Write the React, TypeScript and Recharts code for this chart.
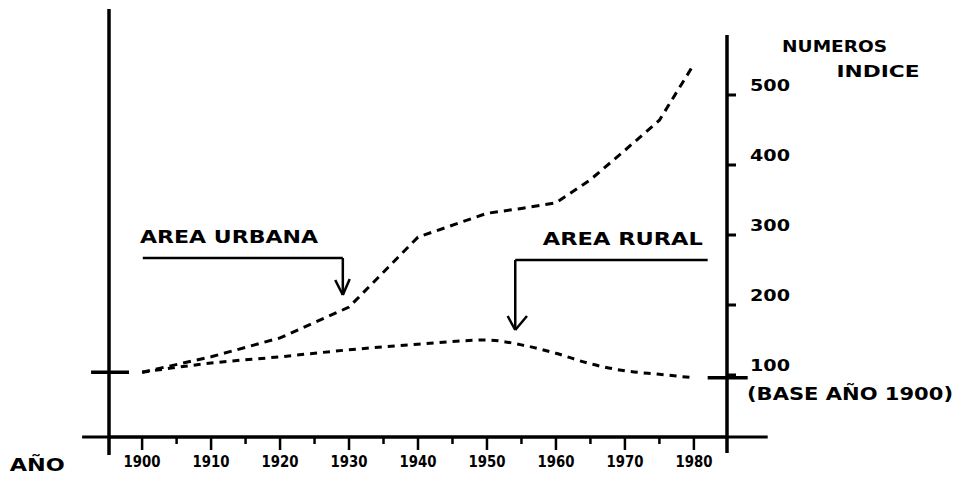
import { LineChart, Line, XAxis, YAxis, ReferenceLine, ReferenceDot } from "recharts";

// índices (base año 1900 = 100)
const years = [1900, 1910, 1920, 1930, 1940, 1950, 1955, 1960, 1965, 1970, 1975, 1980];
const urbana = [104, 126, 153, 197, 297, 331, 338, 346, 379, 421, 464, 544];
const rural = [104, 117, 126, 136, 144, 150, 143, 131, 116, 106, 101, 96];

const xTicks = [1900, 1905, 1910, 1915, 1920, 1925, 1930, 1935, 1940, 1945, 1950, 1955, 1960, 1965, 1970, 1975, 1980];
const yTicks = [100, 200, 300, 400, 500];

const data = years.map((year, i) => ({ year, urbana: urbana[i], rural: rural[i] }));

const font = { fontFamily: "DejaVu Sans", fontWeight: 700 };
const ink = "#000";

const XTick = (props: any) => {
  const { x, y, payload } = props;
  const major = payload.value % 10 === 0;
  return (
    <g>
      <line x1={x} x2={x} y1={y} y2={y + (major ? 13 : 7)} stroke={ink} strokeWidth={2.5} />
      {major && (
        <text x={x} y={y + 25} textAnchor="middle" dominantBaseline="central" fontSize={15}
          textLength={37} lengthAdjust="spacingAndGlyphs" fill={ink} style={font}>
          {payload.value}
        </text>
      )}
    </g>
  );
};

const YTick = (props: any) => {
  const { x, y, payload } = props;
  return (
    <g>
      <text x={x} y={y - 9} dominantBaseline="central" fontSize={16} textLength={40}
        lengthAdjust="spacingAndGlyphs" fill={ink} style={font}>
        {payload.value}
      </text>
      {payload.value === 100 && (
        <text x={x - 3} y={y + 19} dominantBaseline="central" fontSize={17} textLength={206}
          lengthAdjust="spacingAndGlyphs" fill={ink} style={font}>
          (BASE AÑO 1900)
        </text>
      )}
    </g>
  );
};

const note = (value: string, len: number, size = 17) => (props: any) => {
  const vb = props.viewBox;
  return (
    <text x={vb.x + vb.width / 2} y={vb.y + vb.height / 2} textAnchor="middle" dominantBaseline="central"
      fontSize={size} textLength={len} lengthAdjust="spacingAndGlyphs" fill={ink} style={font}>
      {value}
    </text>
  );
};

const seg = (pts: [number, number][], w = 3) => (
  <ReferenceLine
    segment={pts.map(([x, y]) => ({ x, y }))}
    stroke={ink}
    strokeWidth={w}
    ifOverflow="visible"
  />
);

const txt = (x: number, y: number, value: string, len: number, size = 17) => (
  <ReferenceDot x={x} y={y} r={0} fill="none" stroke="none" ifOverflow="visible"
    label={{ content: note(value, len, size) }} />
);

export default function App() {
  return (
    <LineChart width={945} height={471} data={data} margin={{ top: 27, right: 0, bottom: 8, left: 101 }}>
      <XAxis
        dataKey="year"
        type="number"
        domain={[1895.2, 1984.8]}
        ticks={xTicks}
        interval={0}
        allowDataOverflow
        height={34}
        tickSize={0}
        tickMargin={0}
        tickLine={false}
        tick={XTick}
        axisLine={{ stroke: ink, strokeWidth: 3 }}
      />
      <YAxis
        orientation="right"
        type="number"
        domain={[11.43, 585.7]}
        ticks={yTicks}
        allowDataOverflow
        width={226}
        tickSize={9}
        tickMargin={14}
        tickLine={{ stroke: ink, strokeWidth: 3 }}
        tick={YTick}
        axisLine={{ stroke: ink, strokeWidth: 3.5 }}
      />

      {/* ejes dibujados a mano */}
      {seg([[1891.3, 11.43], [1990.7, 11.43]], 3)}
      {seg([[1895.2, -14.3], [1895.2, 623]], 3.5)}
      {seg([[1984.8, 11.43], [1984.8, -11.4]], 3.5)}
      {seg([[1892.6, 104], [1898.1, 104]], 3.5)}
      {seg([[1982.0, 96], [1987.8, 96]], 3.5)}

      {/* flecha área urbana */}
      {seg([[1900.1, 267.1], [1929.1, 267.1]], 2.5)}
      {seg([[1929.1, 267.1], [1929.1, 214.3]], 2.5)}
      {seg([[1928.0, 235.7], [1929.1, 214.3]], 2.5)}
      {seg([[1930.1, 237.1], [1929.1, 214.3]], 2.5)}

      {/* flecha área rural */}
      {seg([[1954.1, 264.3], [1982.0, 264.3]], 2.5)}
      {seg([[1954.1, 264.3], [1954.1, 164.3]], 2.5)}
      {seg([[1953.0, 184.3], [1954.1, 164.3]], 2.5)}
      {seg([[1955.8, 184.3], [1954.1, 164.3]], 2.5)}

      {txt(1912.6, 297.1, "AREA URBANA", 178)}
      {txt(1969.7, 294.3, "AREA RURAL", 160)}
      {txt(2000.4, 568.6, "NUMEROS", 105, 16)}
      {txt(2006.7, 532.9, "INDICE", 83, 16)}
      {txt(1884.8, -28.6, "AÑO", 55, 17)}

      <Line
        type="linear"
        dataKey="urbana"
        stroke={ink}
        strokeWidth={3}
        strokeDasharray="8 6"
        dot={false}
        isAnimationActive={false}
      />
      <Line
        type="monotone"
        dataKey="rural"
        stroke={ink}
        strokeWidth={3}
        strokeDasharray="7 6"
        dot={false}
        isAnimationActive={false}
      />
    </LineChart>
  );
}
